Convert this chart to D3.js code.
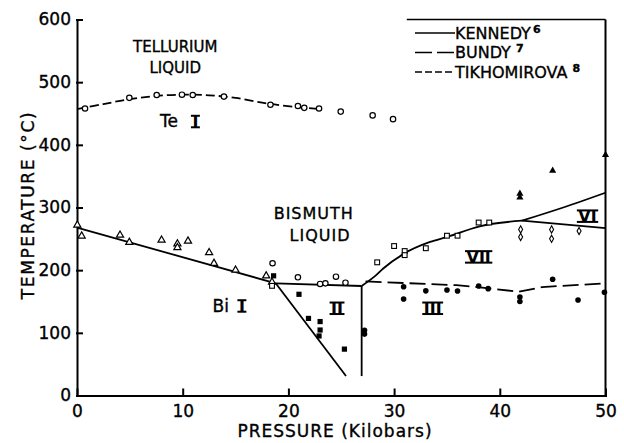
<!DOCTYPE html>
<html lang="en">
<head>
<meta charset="UTF-8">
<title>Bismuth and Tellurium Phase Diagram</title>
<script src="https://d3js.org/d3.v7.min.js"></script>
<style>
  body { margin: 0; background: #fff; }
  svg { font-family: "DejaVu Sans", sans-serif; }
  svg text { stroke: #000; stroke-width: 0.35; }
  .axis path, .axis line { stroke: #000; stroke-width: 2; stroke-linecap: square; }
  .axis text { font-size: 17px; fill: #000; font-family: "DejaVu Sans", sans-serif; }
  .curve { fill: none; stroke: #000; stroke-width: 1.8; }
  .label { font-size: 16px; fill: #000; }
  .roman { font-size: 16px; font-weight: bold; fill: #000; }
</style>
</head>
<body>
<svg id="chart" width="624" height="443"></svg>
<script>
// tick labels
const xTicks = [0, 10, 20, 30, 40, 50];
const yTicks = [0, 100, 200, 300, 400, 500, 600];

// phase boundaries, [pressure kbar, temperature C]
// Kennedy (solid)
const biIMelt = [[0, 268], [18.8, 179]];
const biIIMelt = [[18.8, 179], [26.93, 174.7]];
const biI_II = [[18.8, 179], [25.45, 31]];
const biII_III = [[26.93, 174.7], [26.93, 31]];
const biVIIMelt = [[26.93, 174.7], [28.3, 192], [29.0, 203], [30.9, 226], [33.4, 245], [35.0, 253], [38.1, 270], [42.1, 279]];
const biVIMelt = [[42.1, 279], [46, 300], [50, 323.6]];
const biVI_VII = [[42.1, 279], [50, 267]];
// Bundy (long dash)
const biIII_VII = [[27.3, 182], [35.9, 176], [38.1, 172.6], [41.8, 165.6], [44, 173], [50, 179]];
// Tikhomirova (short dash)
const teMelt = [[0, 457], [2.5, 465], [5, 473], [7.5, 478], [10, 480], [12.5, 479], [15, 475], [18, 466], [21, 460], [23, 457]];

// measured points
const openCircles = [[0.76, 458], [4.95, 475], [7.54, 479.5], [9.93, 480], [10.95, 479.5], [13.9, 477], [18.3, 464],
  [20.9, 462], [21.5, 459], [22.9, 458], [24.95, 453], [27.97, 447], [29.9, 441],
  [18.5, 211], [20.9, 188.6], [23.0, 178], [23.5, 179], [24.5, 189.6], [25.4, 180]];
const openTriangles = [[0.03, 272], [0.44, 254.5], [4.07, 256], [4.95, 244.5], [8.0, 248], [9.5, 242], [9.5, 236],
  [10.5, 246.5], [12.5, 228], [12.96, 211], [15.0, 200], [17.9, 191], [18.45, 181]];
const filledSquares = [[18.6, 191], [21.0, 161.5], [21.9, 123], [23.0, 118], [23.0, 104.5], [22.9, 95], [25.3, 74]];
const openSquares = [[18.45, 175], [28.4, 212.5], [30.0, 238.5], [31.0, 230.5], [31.0, 224], [33.0, 235], [35.0, 255],
  [36.0, 255], [38.0, 276], [39.0, 276]];
const filledCircles = [[27.2, 98], [27.2, 104], [30.9, 173.6], [30.9, 154], [33.0, 167], [35.0, 168.3], [36.0, 166.7],
  [38.0, 174.7], [38.9, 170.5], [41.9, 157], [41.9, 150], [45.0, 185.4], [47.4, 152.4], [49.9, 164.7]];
const filledTriangles = [[41.9, 322], [41.9, 316], [45.0, 358.7], [50, 383.8]];
const openDiamonds = [[41.97, 265], [41.97, 253], [44.9, 265], [44.9, 250], [47.5, 262.5]];

const svg = d3.select("#chart");

const x = d3.scaleLinear().domain([0, 50]).range([77, 605.5]);
const y = d3.scaleLinear().domain([0, 600]).range([395.5, 19.5]);

// axes, ticks pointing inward
svg.append("g")
    .attr("class", "axis")
    .attr("transform", `translate(0,${y(0)})`)
    .call(d3.axisBottom(x).tickValues(xTicks).tickSizeInner(-6).tickSizeOuter(0).tickPadding(9));

svg.append("g")
    .attr("class", "axis")
    .attr("transform", `translate(${x(0)},0)`)
    .call(d3.axisLeft(y).tickValues(yTicks).tickSizeInner(-5).tickSizeOuter(0).tickPadding(6));

svg.selectAll(".axis .domain").attr("fill", "none");

// right frame and top of legend box
svg.append("line")
    .attr("x1", x(50)).attr("x2", x(50))
    .attr("y1", y(0)).attr("y2", y(600))
    .attr("stroke", "#000").attr("stroke-width", 2);
svg.append("line")
    .attr("x1", x(31.2)).attr("x2", x(50))
    .attr("y1", y(600)).attr("y2", y(600))
    .attr("stroke", "#000").attr("stroke-width", 1.5);

// axis titles
svg.append("text")
    .attr("x", 335).attr("y", 437)
    .attr("text-anchor", "middle")
    .style("font-size", "17px").style("letter-spacing", "1px")
    .text("PRESSURE (Kilobars)");

svg.append("text")
    .attr("transform", "translate(34,205) rotate(-90)")
    .attr("text-anchor", "middle")
    .style("font-size", "17px").style("letter-spacing", "1.6px")
    .text("TEMPERATURE (°C)");

// curves
const straight = d3.line().x(d => x(d[0])).y(d => y(d[1]));
const smooth = d3.line().x(d => x(d[0])).y(d => y(d[1])).curve(d3.curveMonotoneX);
const round = d3.line().x(d => x(d[0])).y(d => y(d[1])).curve(d3.curveCatmullRom);

[biIMelt, biIIMelt, biI_II, biII_III, biVI_VII].forEach(d => {
    svg.append("path").attr("class", "curve").attr("d", straight(d));
});
[biVIIMelt, biVIMelt].forEach(d => {
    svg.append("path").attr("class", "curve").attr("d", smooth(d));
});
svg.append("path").attr("class", "curve")
    .attr("stroke-dasharray", "16,6")
    .attr("d", straight(biIII_VII));
svg.append("path").attr("class", "curve")
    .attr("stroke-width", 1.6)
    .attr("stroke-dasharray", "9,4")
    .attr("d", round(teMelt));

// markers
svg.selectAll(".ocirc").data(openCircles).enter().append("circle")
    .attr("cx", d => x(d[0])).attr("cy", d => y(d[1])).attr("r", 2.7)
    .attr("fill", "#fff").attr("stroke", "#000").attr("stroke-width", 1.2);

svg.selectAll(".fcirc").data(filledCircles).enter().append("circle")
    .attr("cx", d => x(d[0])).attr("cy", d => y(d[1])).attr("r", 2.8)
    .attr("fill", "#000");

const tri = d3.symbol().type(d3.symbolTriangle).size(22);
svg.selectAll(".otri").data(openTriangles).enter().append("path")
    .attr("transform", d => `translate(${x(d[0])},${y(d[1])})`)
    .attr("d", tri)
    .attr("fill", "#fff").attr("stroke", "#000").attr("stroke-width", 1.2);

svg.selectAll(".ftri").data(filledTriangles).enter().append("path")
    .attr("transform", d => `translate(${x(d[0])},${y(d[1])})`)
    .attr("d", tri)
    .attr("fill", "#000");

svg.selectAll(".osq").data(openSquares).enter().append("rect")
    .attr("x", d => x(d[0]) - 2.4).attr("y", d => y(d[1]) - 2.4)
    .attr("width", 4.8).attr("height", 4.8)
    .attr("fill", "#fff").attr("stroke", "#000").attr("stroke-width", 1.1);

svg.selectAll(".fsq").data(filledSquares).enter().append("rect")
    .attr("x", d => x(d[0]) - 2.6).attr("y", d => y(d[1]) - 2.6)
    .attr("width", 5.2).attr("height", 5.2)
    .attr("fill", "#000");

svg.selectAll(".odia").data(openDiamonds).enter().append("path")
    .attr("transform", d => `translate(${x(d[0])},${y(d[1])})`)
    .attr("d", "M0,-3.6L2,0L0,3.6L-2,0Z")
    .attr("fill", "#fff").attr("stroke", "#000").attr("stroke-width", 1.1);

// region labels
function label(p, t, txt, size, spacing) {
    svg.append("text")
        .attr("class", "label")
        .attr("x", x(p)).attr("y", y(t))
        .attr("text-anchor", "middle")
        .style("font-size", size + "px")
        .style("letter-spacing", (spacing || 0) + "px")
        .text(txt);
}
label(9.3, 548, "TELLURIUM", 15);
label(9.3, 514.5, "LIQUID", 15);
label(22.4, 281, "BISMUTH", 16, 1);
label(23.0, 247, "LIQUID", 16, 1);
label(8.7, 428, "Te", 17);
label(13.6, 133.7, "Bi", 17);

// roman numerals drawn with bars on top and bottom
function roman(p, t, txt) {
    const g = svg.append("g");
    const tx = g.append("text")
        .attr("class", "roman")
        .attr("x", x(p)).attr("y", y(t))
        .attr("text-anchor", "middle")
        .style("stroke-width", 0)
        .text(txt);
    const b = tx.node().getBBox();
    [y(t) - 11.5, y(t)].forEach(yy => {
        g.append("line")
            .attr("x1", b.x - 1.5).attr("x2", b.x + b.width + 1.5)
            .attr("y1", yy).attr("y2", yy)
            .attr("stroke", "#000").attr("stroke-width", 2);
    });
}
roman(11.2, 428, "I");
roman(15.6, 133.7, "I");
roman(24.6, 130, "II");
roman(33.65, 130, "III");
roman(38.0, 212, "VII");
roman(48.3, 277, "VI");

// legend
const legendItems = [
    { name: "KENNEDY", ref: "6", dash: null },
    { name: "BUNDY", ref: "7", dash: "17,5" },
    { name: "TIKHOMIROVA", ref: "8", dash: "7,3" }
];
const legend = svg.append("g").attr("transform", "translate(415,33)");
legendItems.forEach((d, i) => {
    const row = legend.append("g").attr("transform", `translate(0,${i * 19.5})`);
    row.append("line")
        .attr("x1", 0).attr("x2", 40)
        .attr("stroke", "#000").attr("stroke-width", 1.6)
        .attr("stroke-dasharray", d.dash);
    const t = row.append("text")
        .attr("x", 40).attr("y", 5.5)
        .style("font-size", "16px")
        .text(d.name);
    t.append("tspan")
        .attr("dx", d.name === "KENNEDY" ? 2 : 5).attr("dy", -6)
        .style("font-size", "11px").style("font-weight", "bold")
        .text(d.ref);
});
</script>
</body>
</html>
